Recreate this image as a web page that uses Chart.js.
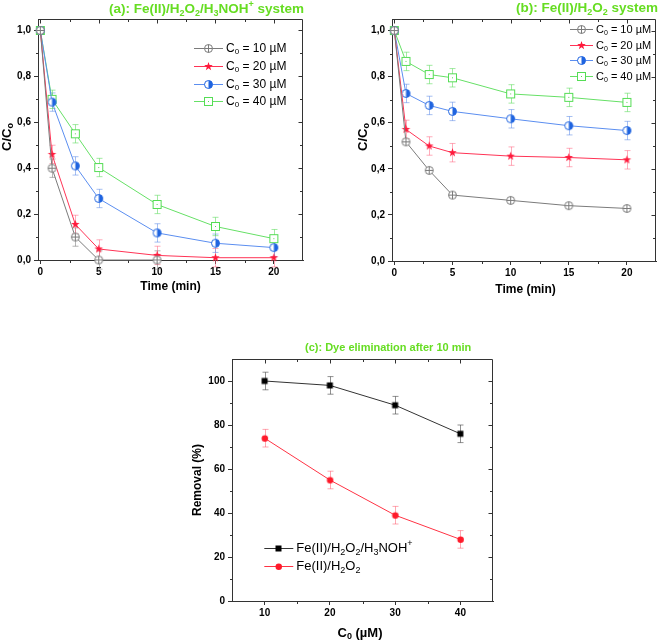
<!DOCTYPE html>
<html>
<head>
<meta charset="utf-8">
<script src="https://cdn.jsdelivr.net/npm/chart.js@4.4.1/dist/chart.umd.min.js"></script>
<style>
    body { margin: 0; background: #fff; }
    #page { position: relative; width: 661px; height: 642px; background: #fff; }
    canvas { position: absolute; }
</style>
</head>
<body>
<div id="page">
    <canvas id="chartA" width="330" height="300" style="left:0;top:0"></canvas>
    <canvas id="chartB" width="331" height="300" style="left:330px;top:0"></canvas>
    <canvas id="chartC" width="380" height="342" style="left:150px;top:300px"></canvas>
</div>
<script>
// ---- data ----
const timeMin = [0, 1, 3, 5, 10, 15, 20];
const timeTicks = [0, 5, 10, 15, 20];
const ratioTicks = [0, 0.2, 0.4, 0.6, 0.8, 1.0];
const ratioTickLabels = ["0,0", "0,2", "0,4", "0,6", "0,8", "1,0"];
const concLabels = ["C_{0} = 10 µM", "C_{0} = 20 µM", "C_{0} = 30 µM", "C_{0} = 40 µM"];

// (a) Fe(II)/H2O2/H3NOH+
const a10 = [1.0, 0.40, 0.10, 0.0, 0.0, null, null];
const a20 = [1.0, 0.46, 0.155, 0.048, 0.02, 0.01, 0.01];
const a30 = [1.0, 0.688, 0.41, 0.268, 0.118, 0.073, 0.054];
const a40 = [1.0, 0.70, 0.55, 0.403, 0.242, 0.146, 0.093];
const aErr = [0, 0.04, 0.04, 0.04, 0.04, 0.04, 0.04];

// (b) Fe(II)/H2O2
const b10 = [1.0, 0.517, 0.393, 0.286, 0.263, 0.240, 0.228];
const b20 = [1.0, 0.571, 0.499, 0.470, 0.455, 0.449, 0.439];
const b30 = [1.0, 0.727, 0.675, 0.649, 0.617, 0.587, 0.566];
const b40 = [1.0, 0.866, 0.809, 0.795, 0.725, 0.710, 0.688];
const bErr = [0, 0.04, 0.04, 0.04, 0.04, 0.04, 0.04];

// (c) removal after 10 min
const dose = [10, 20, 30, 40];
const doseTicks = [10, 20, 30, 40];
const removalTicks = [0, 20, 40, 60, 80, 100];
const removalHydrox = [100, 98, 89, 76];
const removalFenton = [74, 55, 39, 28];
const removalErr = [4, 4, 4, 4];
const systemLabels = ["Fe(II)/H_{2}O_{2}/H_{3}NOH^{+}", "Fe(II)/H_{2}O_{2}"];

// ---- helpers ----
const FONT = "'Liberation Sans', Arial, sans-serif";
const AXIS = "#333333";
const TITLE_GREEN = "#66dd22";
Chart.defaults.font.family = FONT;

function parseRich(str) {
    const parts = [];
    let buf = "";
    let i = 0;
    while (i < str.length) {
        if ((str[i] === "_" || str[i] === "^") && str[i + 1] === "{") {
            if (buf) parts.push({ t: buf, k: 0 });
            buf = "";
            const end = str.indexOf("}", i);
            parts.push({ t: str.slice(i + 2, end), k: str[i] === "_" ? 1 : -1 });
            i = end + 1;
        } else {
            buf += str[i];
            i++;
        }
    }
    if (buf) parts.push({ t: buf, k: 0 });
    return parts;
}

function drawRich(ctx, str, x, y, o) {
    const parts = parseRich(str);
    const size = o.size;
    const weight = o.bold ? "bold " : "";
    const small = Math.round(size * 0.68);
    let w = 0;
    parts.forEach((p) => {
        ctx.font = weight + (p.k ? small : size) + "px " + FONT;
        p.w = ctx.measureText(p.t).width;
        w += p.w;
    });
    ctx.save();
    ctx.translate(x, y);
    if (o.rotate) ctx.rotate(o.rotate);
    ctx.fillStyle = o.color || "#000";
    ctx.textBaseline = "middle";
    ctx.textAlign = "left";
    let cx = o.align === "right" ? -w : o.align === "center" ? -w / 2 : 0;
    parts.forEach((p) => {
        ctx.font = weight + (p.k ? small : size) + "px " + FONT;
        const dy = p.k === 1 ? size * 0.3 : p.k === -1 ? -size * 0.38 : 0;
        ctx.fillText(p.t, cx, dy);
        cx += p.w;
    });
    ctx.restore();
}

function makeMarker(kind, color, size) {
    const s = size + 3;
    const c = document.createElement("canvas");
    c.width = s;
    c.height = s;
    const g = c.getContext("2d");
    const m = s / 2;
    const r = size / 2;
    g.lineWidth = 1;
    g.strokeStyle = color;
    g.fillStyle = color;
    if (kind === "circlePlus") {
        g.beginPath();
        g.arc(m, m, r, 0, Math.PI * 2);
        g.fillStyle = "#fff";
        g.fill();
        g.moveTo(m - r, m);
        g.lineTo(m + r, m);
        g.moveTo(m, m - r);
        g.lineTo(m, m + r);
        g.stroke();
    } else if (kind === "star") {
        g.beginPath();
        for (let i = 0; i < 10; i++) {
            const rr = i % 2 ? r * 0.45 : r + 0.5;
            const ang = -Math.PI / 2 + (i * Math.PI) / 5;
            g.lineTo(m + rr * Math.cos(ang), m + rr * Math.sin(ang));
        }
        g.closePath();
        g.fill();
    } else if (kind === "halfCircle") {
        g.beginPath();
        g.arc(m, m, r, 0, Math.PI * 2);
        g.fillStyle = "#fff";
        g.fill();
        g.beginPath();
        g.arc(m, m, r, -Math.PI / 2, Math.PI / 2);
        g.closePath();
        g.fillStyle = color;
        g.fill();
        g.beginPath();
        g.arc(m, m, r, 0, Math.PI * 2);
        g.stroke();
    } else if (kind === "openSquare") {
        g.fillStyle = "#fff";
        g.fillRect(m - r, m - r, size, size);
        g.strokeRect(m - r, m - r, size, size);
        g.fillStyle = color;
        g.fillRect(m - 0.5, m - 0.5, 1, 1);
    } else if (kind === "square") {
        g.fillRect(m - r, m - r, size, size);
    } else if (kind === "dot") {
        g.beginPath();
        g.arc(m, m, r, 0, Math.PI * 2);
        g.fill();
    }
    return c;
}

// ---- plugins ----
const framePlugin = {
    id: "frame",
    afterDraw(chart) {
        const { ctx, chartArea: a, scales } = chart;
        const xs = scales.x;
        const ys = scales.y;
        const px = (v) => Math.round(xs.getPixelForValue(v)) + 0.5;
        const py = (v) => Math.round(ys.getPixelForValue(v)) + 0.5;
        const L = Math.round(a.left) + 0.5;
        const R = Math.round(a.right) - 0.5;
        const T = Math.round(a.top) + 0.5;
        const B = Math.round(a.bottom) + 0.5;
        ctx.save();
        ctx.strokeStyle = AXIS;
        ctx.lineWidth = 1;
        ctx.beginPath();
        ctx.moveTo(L, T);
        ctx.lineTo(R, T);
        ctx.lineTo(R, B);
        const xv = xs.ticks.map((t) => t.value);
        const yv = ys.ticks.map((t) => t.value);
        xv.forEach((v) => {
            ctx.moveTo(px(v), T);
            ctx.lineTo(px(v), T + 4);
        });
        yv.forEach((v) => {
            ctx.moveTo(R, py(v));
            ctx.lineTo(R - 4, py(v));
        });
        // minor ticks halfway between majors
        for (let i = 0; i < xv.length - 1; i++) {
            const v = (xv[i] + xv[i + 1]) / 2;
            ctx.moveTo(px(v), B);
            ctx.lineTo(px(v), B + 2.5);
            ctx.moveTo(px(v), T);
            ctx.lineTo(px(v), T + 2.5);
        }
        for (let i = 0; i < yv.length - 1; i++) {
            const v = (yv[i] + yv[i + 1]) / 2;
            ctx.moveTo(L, py(v));
            ctx.lineTo(L - 2.5, py(v));
            ctx.moveTo(R, py(v));
            ctx.lineTo(R - 2.5, py(v));
        }
        ctx.stroke();
        ctx.restore();
    },
};

const errorBarPlugin = {
    id: "errorBars",
    beforeDatasetsDraw(chart) {
        const { ctx } = chart;
        const ys = chart.scales.y;
        chart.data.datasets.forEach((ds, i) => {
            if (!ds.errors) return;
            const meta = chart.getDatasetMeta(i);
            ctx.save();
            ctx.strokeStyle = ds.errorColor;
            ctx.lineWidth = 1;
            ctx.beginPath();
            meta.data.forEach((pt, j) => {
                const v = ds.data[j].y;
                const e = ds.errors[j];
                if (v === null || !e) return;
                const x = Math.round(pt.x) + 0.5;
                const top = ys.getPixelForValue(v + e);
                const bot = ys.getPixelForValue(v - e);
                const cap = ds.capWidth / 2;
                ctx.moveTo(x, top);
                ctx.lineTo(x, bot);
                ctx.moveTo(x - cap, top);
                ctx.lineTo(x + cap, top);
                ctx.moveTo(x - cap, bot);
                ctx.lineTo(x + cap, bot);
            });
            ctx.stroke();
            ctx.restore();
        });
    },
};

const legendPlugin = {
    id: "richLegend",
    afterDraw(chart, args, o) {
        if (!o.x) return;
        const { ctx } = chart;
        chart.data.datasets.forEach((ds, i) => {
            const y = Math.round(o.y + i * o.dy) + 0.5;
            ctx.save();
            ctx.strokeStyle = ds.borderColor;
            ctx.lineWidth = 1;
            ctx.beginPath();
            ctx.moveTo(o.x, y);
            ctx.lineTo(o.x + o.len, y);
            ctx.stroke();
            const img = ds.pointStyle;
            ctx.drawImage(img, Math.round(o.x + o.len / 2 - img.width / 2), Math.round(y - img.height / 2));
            ctx.restore();
            drawRich(ctx, ds.label, o.x + o.len + o.gap, y, { size: o.size, color: "#000" });
        });
    },
};

const textPlugin = {
    id: "texts",
    afterDraw(chart, args, o) {
        (o.items || []).forEach((t) => drawRich(chart.ctx, t.str, t.x, t.y, t));
    },
};

// ---- builders ----
function series(xs, ys) {
    return xs.map((x, i) => ({ x, y: ys[i] }));
}

function lineDataset(label, xs, ys, marker, lineColor, errs, errColor, cap) {
    return {
        label,
        data: series(xs, ys),
        borderColor: lineColor,
        borderWidth: 1,
        pointStyle: marker,
        pointRadius: 4,
        pointHoverRadius: 4,
        tension: 0,
        clip: false,
        errors: errs,
        errorColor: errColor,
        capWidth: cap,
    };
}

function tickFont() {
    return { size: 10, weight: "bold", family: FONT };
}

function axisOpts(min, max, ticks, labels, fitSize, isY) {
    return {
        type: "linear",
        min,
        max,
        afterBuildTicks: (s) => {
            s.ticks = ticks.map((v) => ({ value: v }));
        },
        afterFit: (s) => {
            if (isY) s.width = fitSize;
            else s.height = fitSize;
        },
        grid: {
            drawOnChartArea: false,
            drawTicks: true,
            tickLength: 4,
            color: AXIS,
            lineWidth: 1,
        },
        border: { color: AXIS, width: 1 },
        ticks: {
            color: "#000",
            font: tickFont(),
            padding: isY ? 3 : 2,
            maxRotation: 0,
            autoSkip: false,
            callback: (v) => {
                const i = ticks.indexOf(v);
                return labels ? labels[i] : String(v);
            },
        },
    };
}

const markSize = 8;
const grey = "#7b7b7b";
const red = "#ff3355";
const blue = "#5b8ef0";
const green = "#66e066";

function kineticDatasets(d10, d20, d30, d40, err, greyErr) {
    return [
        lineDataset(concLabels[0], timeMin, d10, makeMarker("circlePlus", grey, markSize), grey, greyErr, "rgba(120,120,120,0.55)", 6),
        lineDataset(concLabels[1], timeMin, d20, makeMarker("star", "#ff1a3c", markSize), red, err, "rgba(255,90,120,0.5)", 6),
        lineDataset(concLabels[2], timeMin, d30, makeMarker("halfCircle", "#1f64e0", markSize), blue, err, "rgba(80,130,230,0.5)", 6),
        lineDataset(concLabels[3], timeMin, d40, makeMarker("openSquare", "#55dd55", markSize), green, err, "rgba(100,220,100,0.6)", 6),
    ];
}

function kineticChart(id, datasets, pad, yWidth, xHeight, legend, texts) {
    new Chart(document.getElementById(id), {
        type: "line",
        data: { datasets },
        options: {
            responsive: false,
            animation: false,
            layout: { padding: pad },
            scales: {
                x: axisOpts(-0.2, 22.5, timeTicks, null, xHeight, false),
                y: axisOpts(0, 1.05, ratioTicks, ratioTickLabels, yWidth, true),
            },
            plugins: {
                legend: { display: false },
                tooltip: { enabled: false },
                richLegend: legend,
                texts: { items: texts },
            },
        },
        plugins: [errorBarPlugin, framePlugin, legendPlugin, textPlugin],
    });
}

// ---- (a) ----
kineticChart(
    "chartA",
    kineticDatasets(a10, a20, a30, a40, aErr, aErr),
    { top: 19, right: 27, left: 0, bottom: 0 },
    38,
    40,
    { x: 194, y: 48.3, dy: 17.6, len: 29, gap: 3, size: 12 },
    [
        { str: "(a): Fe(II)/H_{2}O_{2}/H_{3}NOH^{+} system", x: 304, y: 9.5, size: 13.5, bold: true, color: TITLE_GREEN, align: "right" },
        { str: "Time (min)", x: 170.5, y: 287, size: 12, bold: true, align: "center" },
        { str: "C/C_{o}", x: 7, y: 137, size: 13, bold: true, align: "center", rotate: -Math.PI / 2 },
    ]
);

// ---- (b) ----
kineticChart(
    "chartB",
    kineticDatasets(b10, b20, b30, b40, bErr, null),
    { top: 19, right: 2, left: 0, bottom: 0 },
    62,
    39,
    { x: 240, y: 29.3, dy: 15.4, len: 23, gap: 3, size: 11 },
    [
        { str: "(b): Fe(II)/H_{2}O_{2} system", x: 328, y: 8.5, size: 13.5, bold: true, color: TITLE_GREEN, align: "right" },
        { str: "Time (min)", x: 195.5, y: 290, size: 12, bold: true, align: "center" },
        { str: "C/C_{o}", x: 33, y: 137, size: 13, bold: true, align: "center", rotate: -Math.PI / 2 },
    ]
);

// ---- (c) ----
new Chart(document.getElementById("chartC"), {
    type: "line",
    data: {
        datasets: [
            lineDataset(systemLabels[0], dose, removalHydrox, makeMarker("square", "#000", 6), "#333", removalErr, "rgba(70,70,70,0.6)", 6),
            lineDataset(systemLabels[1], dose, removalFenton, makeMarker("dot", "#ff1a2a", 6.5), "#ff3344", removalErr, "rgba(255,80,100,0.5)", 6),
        ],
    },
    options: {
        responsive: false,
        animation: false,
        layout: { padding: { top: 59, right: 37, left: 0, bottom: 0 } },
        scales: {
            x: axisOpts(5, 45, doseTicks, null, 41, false),
            y: axisOpts(0, 110, removalTicks, null, 82, true),
        },
        plugins: {
            legend: { display: false },
            tooltip: { enabled: false },
            richLegend: { x: 114.3, y: 248.3, dy: 17.4, len: 29, gap: 3, size: 13 },
            texts: {
                items: [
                    { str: "(c): Dye elimination after 10 min", x: 155, y: 48, size: 11, bold: true, color: TITLE_GREEN, align: "left" },
                    { str: "C_{0} (µM)", x: 210, y: 333, size: 13, bold: true, align: "center" },
                    { str: "Removal (%)", x: 48, y: 180, size: 12, bold: true, align: "center", rotate: -Math.PI / 2 },
                ],
            },
        },
    },
    plugins: [errorBarPlugin, framePlugin, legendPlugin, textPlugin],
});
</script>
</body>
</html>
